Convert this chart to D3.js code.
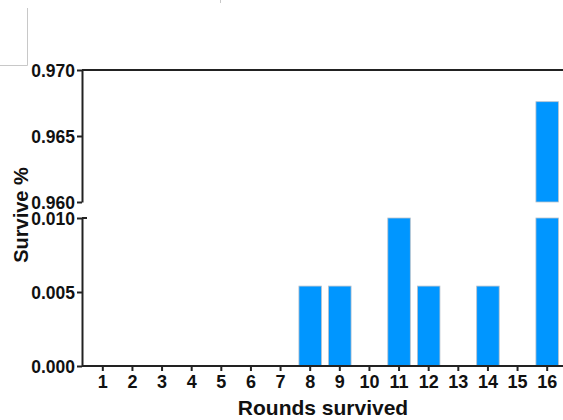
<!DOCTYPE html>
<html>
<head>
<meta charset="utf-8">
<script src="https://cdn.jsdelivr.net/npm/d3@7"></script>
<style>
  body { margin: 0; background: #fff; }
  .axis text { font-family: "Liberation Sans", Arial, sans-serif; font-weight: bold; font-size: 17.5px; fill: #111; }
  .axis path, .axis line { stroke: #222; stroke-width: 2px; }
  .label { font-family: "Liberation Sans", Arial, sans-serif; font-weight: bold; fill: #111; }
</style>
</head>
<body>
<div class="chart"></div>
<script>
var svgWidth = 563;
var svgHeight = 420;

// data
var rounds = ["1","2","3","4","5","6","7","8","9","10","11","12","13","14","15","16"];
var survive = [0, 0, 0, 0, 0, 0, 0, 0.0054, 0.0054, 0, 0.0108, 0.0054, 0, 0.0054, 0, 0.9676];
var lowTicks = [0, 0.005, 0.010];
var highTicks = [0.960, 0.965, 0.970];

var lowDomain = [0, 0.010];
var highDomain = [0.960, 0.970];

var svg = d3.select(".chart")
  .append("svg")
  .attr("width", svgWidth)
  .attr("height", svgHeight);

// stray frame lines in the top left corner
svg.append("path")
  .attr("d", "M0,65.5H27.5V8")
  .attr("fill", "none")
  .attr("stroke", "#c8c8c8")
  .attr("stroke-width", 1);
svg.append("line")
  .attr("x1", 220.5).attr("x2", 220.5)
  .attr("y1", 0).attr("y2", 3)
  .attr("stroke", "#c8c8c8");

var axisX = 82;

var xScale = d3.scaleBand()
  .domain(rounds)
  .range([88, 562])
  .paddingInner(0.24)
  .paddingOuter(0.12);

var yLow = d3.scaleLinear().domain(lowDomain).range([366, 218]);
var yHigh = d3.scaleLinear().domain(highDomain).range([202, 70]);

var data = rounds.map((r, i) => ({ round: r, value: survive[i] }));

// lower segment bars (clipped at top of segment)
svg.append("g").selectAll("rect")
  .data(data.filter(d => d.value > 0))
  .enter()
  .append("rect")
  .attr("x", d => xScale(d.round))
  .attr("width", xScale.bandwidth())
  .attr("y", d => yLow(Math.min(d.value, lowDomain[1])))
  .attr("height", d => yLow(0) - yLow(Math.min(d.value, lowDomain[1])))
  .attr("fill", "#0096ff")
  .attr("stroke", "#b9c2cc")
  .attr("stroke-width", 0.8);

// upper segment bars
svg.append("g").selectAll("rect")
  .data(data.filter(d => d.value > highDomain[0]))
  .enter()
  .append("rect")
  .attr("x", d => xScale(d.round))
  .attr("width", xScale.bandwidth())
  .attr("y", d => yHigh(Math.min(d.value, highDomain[1])))
  .attr("height", d => yHigh(highDomain[0]) - yHigh(Math.min(d.value, highDomain[1])))
  .attr("fill", "#0096ff")
  .attr("stroke", "#b9c2cc")
  .attr("stroke-width", 0.8);

// y axes
var lowAxis = svg.append("g")
  .attr("class", "axis")
  .attr("transform", `translate(${axisX},0)`)
  .call(d3.axisLeft(yLow).tickValues(lowTicks).tickFormat(d3.format(".3f")).tickSize(5).tickSizeOuter(0).tickPadding(2));
lowAxis.selectAll("text").attr("dy", "0.36em");

var highAxis = svg.append("g")
  .attr("class", "axis")
  .attr("transform", `translate(${axisX},0)`)
  .call(d3.axisLeft(yHigh).tickValues(highTicks).tickFormat(d3.format(".3f")).tickSize(5).tickSizeOuter(0).tickPadding(2));
highAxis.selectAll("text").attr("dy", "0.36em");

// cap at the top of the lower segment
svg.append("line")
  .attr("x1", axisX).attr("x2", axisX + 5)
  .attr("y1", yLow(lowDomain[1])).attr("y2", yLow(lowDomain[1]))
  .attr("stroke", "#222")
  .attr("stroke-width", 2);

// top line of the upper segment
svg.append("line")
  .attr("x1", axisX).attr("x2", svgWidth)
  .attr("y1", yHigh(highDomain[1])).attr("y2", yHigh(highDomain[1]))
  .attr("stroke", "#222")
  .attr("stroke-width", 2);

// x axis
var xAxis = svg.append("g")
  .attr("class", "axis")
  .attr("transform", `translate(0,${yLow(0)})`)
  .call(d3.axisBottom(xScale).tickSize(5).tickSizeOuter(0).tickPadding(4));
xAxis.selectAll("text").style("font-size", "18px");
xAxis.select(".domain").attr("d", `M${axisX},0H${svgWidth}`);

// axis labels
svg.append("text")
  .attr("class", "label")
  .attr("text-anchor", "middle")
  .style("font-size", "21px")
  .attr("x", 323)
  .attr("y", 415)
  .text("Rounds survived");

svg.append("text")
  .attr("class", "label")
  .attr("text-anchor", "middle")
  .style("font-size", "20px")
  .attr("transform", "translate(28,215) rotate(-90)")
  .text("Survive %");
</script>
</body>
</html>
